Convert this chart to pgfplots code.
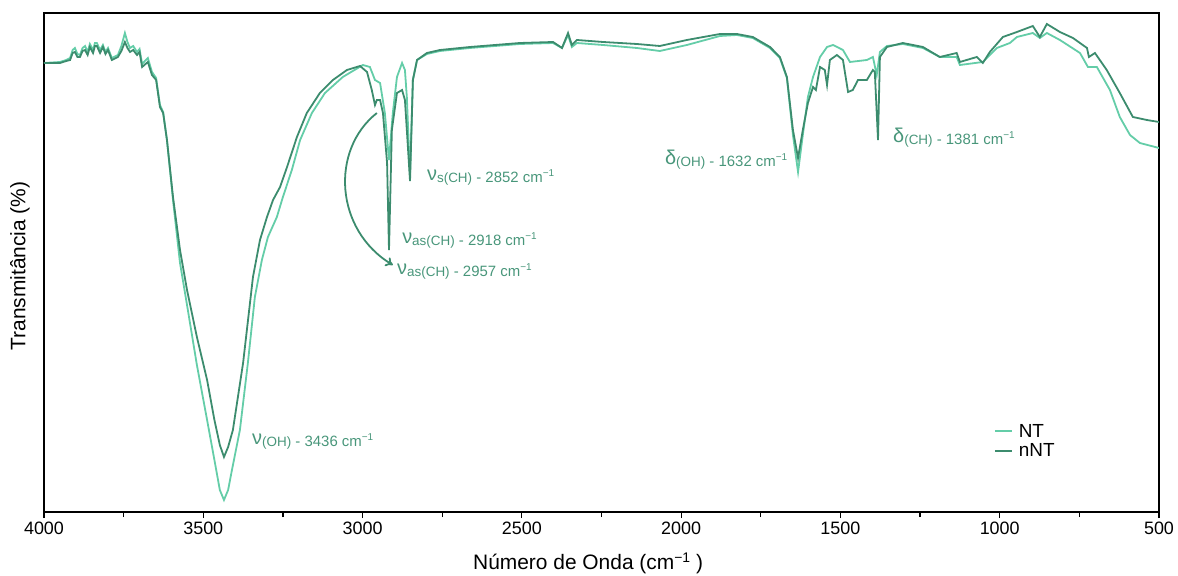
\documentclass[border=0pt]{standalone}
\usepackage{fontspec}
\setmainfont{Liberation Sans}
\usepackage{pgfplots}
\pgfplotsset{compat=1.18}
\usetikzlibrary{arrows.meta}
\definecolor{ntc}{RGB}{100,205,168}
\definecolor{nntc}{RGB}{60,140,110}
\definecolor{annc}{RGB}{72,150,122}
\newcommand{\ann}[3]{{\fontsize{20}{20}\selectfont\raisebox{2bp}{#1}}{\fontsize{13.5}{13}\selectfont #2}{\fontsize{15}{15}\selectfont\ -\ #3\ cm\raisebox{6bp}{\fontsize{10}{10}\selectfont −1}}}
\begin{document}
\begin{tikzpicture}
\path[use as bounding box] (-44bp,-64bp) rectangle (1134bp,512bp);
\begin{axis}[
  at={(0,0)}, anchor=south west, scale only axis,
  width=1115bp, height=499bp,
  x dir=reverse, xmin=500, xmax=4000, ymin=0, ymax=499,
  xtick={500,1000,...,4000}, minor xtick={750,1250,...,3750},
  xtick pos=lower, ytick=\empty,
  tick align=outside, major tick length=6bp, minor tick length=5bp,
  axis line style={line width=1.5bp, black},
  every tick/.style={black, line width=1.2bp},
  /pgf/number format/1000 sep={},
  /pgf/number format/assume math mode=true,
  tick label style={font=\fontsize{18}{20}\selectfont},
  xlabel={Número de Onda (cm\raisebox{7bp}{\fontsize{14}{14}\selectfont −1} )},
  ylabel={Transmitância (\%)},
  label style={font=\fontsize{21}{24}\selectfont},
  xlabel style={at={(axis description cs:0.488,-0.102)}, anchor=center},
  ylabel style={at={(axis description cs:-0.0215,0.493)}, anchor=center},
  legend style={draw=none, fill=none, at={(0.849,0.142)}, anchor=west,
    font=\fontsize{19}{21}\selectfont, row sep=1bp,
    nodes={inner xsep=6bp}},
  legend cell align=left,
  legend image code/.code={\draw[#1, line width=2bp] (0bp,0bp) -- (17bp,0bp);},
]
\addplot[ntc, line width=1.8bp] coordinates {
(4000,449)(3950,450)(3930,452)(3918,454)(3910,462)(3903,464)(3895,458)(3887,457)(3879,464)(3871,466)(3863,460)(3856,468)(3846,462)(3840,469)(3834,469)(3824,462)(3815,467)(3807,460)(3799,464)(3787,454)(3768,457)(3757,466)(3746,479)(3738,470)(3730,464)(3720,466)(3708,460)(3700,463)(3692,448)(3674,454)(3661,440)(3648,434)(3636,407)(3626,400)(3614,372)(3595,312)(3573,249)(3551,207)(3520,147)(3488,92)(3465,52)(3448,22)(3435,12)(3422,22)(3410,42)(3385,82)(3360,149)(3338,215)(3316,252)(3297,275)(3269,295)(3250,315)(3222,342)(3196,372)(3159,399)(3118,419)(3062,435)(2999,447)(2977,445)(2961,432)(2945,429)(2930,399)(2917,352)(2905,399)(2892,435)(2876,449)(2867,442)(2861,415)(2851,337)(2842,432)(2829,452)(2798,458)(2757,461)(2663,464)(2506,468)(2402,469)(2374,464)(2355,477)(2343,465)(2327,469)(2245,467)(2139,464)(2067,461)(1982,467)(1878,476)(1825,477)(1775,474)(1721,464)(1690,454)(1668,434)(1649,377)(1633,340)(1618,377)(1602,415)(1586,435)(1564,455)(1542,465)(1523,467)(1492,462)(1470,450)(1417,452)(1398,455)(1386,437)(1376,460)(1354,466)(1304,468)(1241,464)(1188,455)(1135,455)(1125,447)(1053,450)(1009,464)(968,469)(946,475)(896,479)(874,474)(852,479)(811,472)(748,459)(723,445)(695,445)(654,422)(623,395)(591,377)(560,369)(500,364)
};
\addlegendentry{NT}
\addplot[nntc, line width=1.8bp] coordinates {
(4000,449)(3950,449)(3930,451)(3918,452)(3910,459)(3903,460)(3895,455)(3887,455)(3879,461)(3871,462)(3863,457)(3856,465)(3846,459)(3840,466)(3834,466)(3824,459)(3815,465)(3807,458)(3799,462)(3787,452)(3768,455)(3757,461)(3746,470)(3738,464)(3730,460)(3720,462)(3708,457)(3700,460)(3692,445)(3674,450)(3661,437)(3648,432)(3636,405)(3626,399)(3614,372)(3595,315)(3573,262)(3551,222)(3520,175)(3488,132)(3465,92)(3448,67)(3435,55)(3422,65)(3407,82)(3375,149)(3344,235)(3322,272)(3300,295)(3281,312)(3259,325)(3237,345)(3206,375)(3175,399)(3134,419)(3093,432)(3049,442)(3008,446)(2986,440)(2971,422)(2961,407)(2955,412)(2945,412)(2936,399)(2923,349)(2917,262)(2908,382)(2892,419)(2876,422)(2867,412)(2861,382)(2851,331)(2842,432)(2829,452)(2798,459)(2757,462)(2663,465)(2506,469)(2402,470)(2374,464)(2355,479)(2343,467)(2327,472)(2245,470)(2139,468)(2067,466)(1982,472)(1878,478)(1825,478)(1775,475)(1721,465)(1690,455)(1668,435)(1649,382)(1633,354)(1618,382)(1602,409)(1586,425)(1577,422)(1564,445)(1549,442)(1542,427)(1533,452)(1511,457)(1492,452)(1476,420)(1461,422)(1445,432)(1417,432)(1398,442)(1392,440)(1382,372)(1376,455)(1354,465)(1304,469)(1241,465)(1188,455)(1135,459)(1125,450)(1072,455)(1053,449)(1031,460)(990,475)(946,480)(896,486)(874,475)(852,488)(811,480)(770,474)(726,464)(720,455)(701,459)(664,442)(623,419)(582,395)(538,392)(500,390)
};
\addlegendentry{nNT}
\draw[-{To[length=7bp,width=10bp]}, nntc, line width=1.8bp] (2955,399) .. controls (3102,362) and (3087,282) .. (2905,247);
\node[anchor=base west, text=annc, inner sep=0] at (3347,66) {\ann{ν}{(OH)}{3436}};
\node[anchor=base west, text=annc, inner sep=0] at (2798,329) {\ann{ν}{s(CH)}{2852}};
\node[anchor=base west, text=annc, inner sep=0] at (2876,266) {\ann{ν}{as(CH)}{2918}};
\node[anchor=base west, text=annc, inner sep=0] at (2892,235) {\ann{ν}{as(CH)}{2957}};
\node[anchor=base west, text=annc, inner sep=0] at (2051,345) {\ann{δ}{(OH)}{1632}};
\node[anchor=base west, text=annc, inner sep=0] at (1335,367) {\ann{δ}{(CH)}{1381}};
\end{axis}
\end{tikzpicture}
\end{document}
